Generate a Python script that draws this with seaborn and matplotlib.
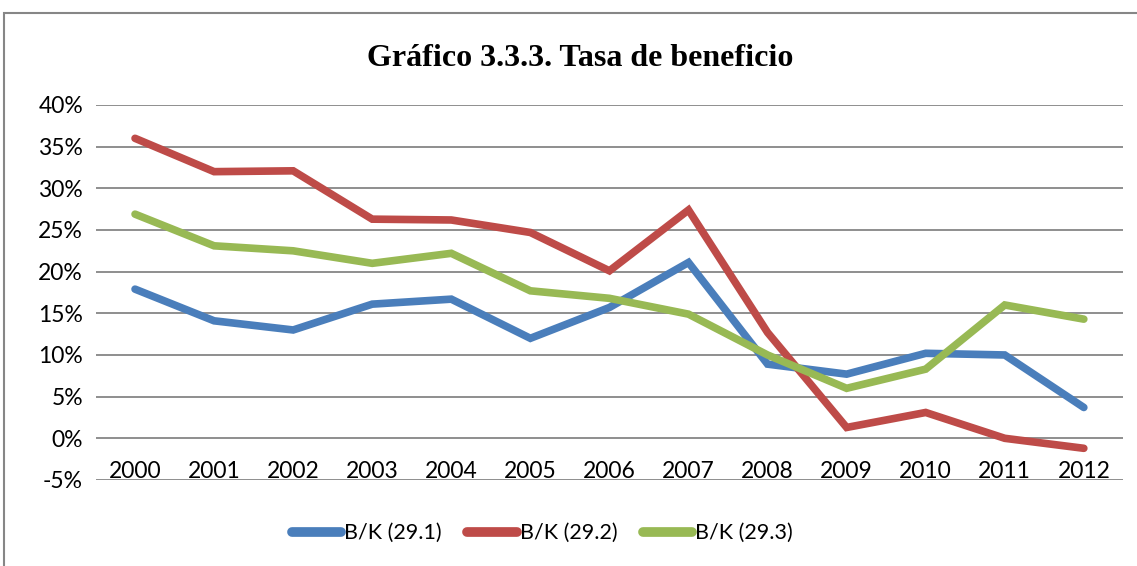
"""Tasa de beneficio (B/K) por subsector, 2000-2012."""

import matplotlib
matplotlib.use("Agg")
import matplotlib.pyplot as plt
import matplotlib.patches as mpatches
import pandas as pd
import seaborn as sns

YEARS = [2000, 2001, 2002, 2003, 2004, 2005, 2006, 2007, 2008, 2009, 2010, 2011, 2012]
BK_291 = [17.9, 14.1, 13.0, 16.1, 16.7, 12.0, 15.7, 21.1, 8.9, 7.7, 10.2, 10.0, 3.7]
BK_292 = [36.0, 32.0, 32.1, 26.3, 26.2, 24.7, 20.1, 27.4, 12.7, 1.3, 3.1, 0.0, -1.2]
BK_293 = [26.9, 23.1, 22.5, 21.0, 22.2, 17.7, 16.8, 14.9, 10.0, 6.0, 8.3, 16.0, 14.3]
SERIES = ["B/K (29.1)", "B/K (29.2)", "B/K (29.3)"]
COLORS = ["#4A7EBB", "#BE4B48", "#98B954"]

df = pd.DataFrame({"year": [str(y) for y in YEARS],
                   SERIES[0]: BK_291, SERIES[1]: BK_292, SERIES[2]: BK_293})
long = df.melt(id_vars="year", var_name="serie", value_name="valor")

sns.set_theme(style="white")
plt.rcParams["font.family"] = ["Lato", "DejaVu Sans"]
plt.rcParams["text.color"] = "black"

fig = plt.figure(figsize=(11.37, 5.66), dpi=100)
ax = fig.add_axes([0.084, 0.152, 0.904, 0.6625])

sns.lineplot(data=long, x="year", y="valor", hue="serie", palette=COLORS,
             linewidth=5.5, sort=False, ax=ax, legend=True)
for ln in ax.get_lines():
    ln.set_solid_capstyle("round")
    ln.set_solid_joinstyle("miter")

ax.set_xlim(-0.5, len(YEARS) - 0.5)
ax.set_ylim(-5, 40)
ax.set_yticks(range(-5, 41, 5))
ax.set_yticklabels([f"{v}%" for v in range(-5, 41, 5)])
ax.yaxis.grid(True, color="#868686", linewidth=1.3)
ax.set_axisbelow(True)
for s in ax.spines.values():
    s.set_visible(False)
ax.tick_params(axis="y", length=0, pad=9, labelsize=16.5, labelcolor="black")
ax.tick_params(axis="x", length=0, pad=-14, labelsize=16.5, labelcolor="black")
ax.set_xlabel("")
ax.set_ylabel("")

fig.text(0.51, 0.897, "Gráfico 3.3.3. Tasa de beneficio", ha="center", va="center",
         fontsize=23, fontweight="bold", family="Liberation Serif", color="black")

handles = ax.get_legend().legend_handles
for h in handles:
    h.set_linewidth(7)
    h.set_solid_capstyle("round")
leg = ax.legend(handles=handles, labels=SERIES,
                loc="center", bbox_to_anchor=(0.477, 0.058), bbox_transform=fig.transFigure,
                ncol=3, frameon=False, fontsize=15.5, handlelength=2.3, handletextpad=0.12,
                columnspacing=1.2)
for t in leg.get_texts():
    t.set_color("black")

fig.patches.append(mpatches.Rectangle((4 / 1137, -0.05), 1.2, (566 - 13) / 566 + 0.05,
                                      transform=fig.transFigure, fill=False,
                                      edgecolor="#868686", linewidth=1.5))

fig.savefig("out.png", dpi=100)
